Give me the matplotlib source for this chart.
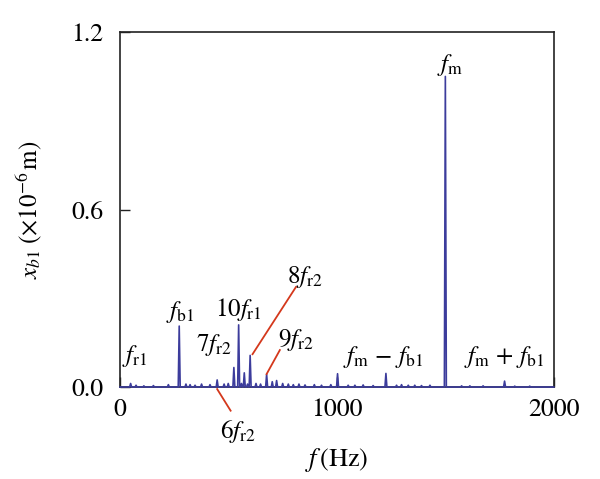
import numpy as np
import matplotlib
matplotlib.use("Agg")
import matplotlib.pyplot as plt

plt.rcParams['font.family'] = ['STIXGeneral', 'DejaVu Serif']
plt.rcParams['mathtext.fontset'] = 'stix'

# Spectrum peaks (Hz, amplitude x1e-6 m)
peak_freqs = [49, 74, 110, 154, 223, 273, 304, 323, 346, 376, 415, 448, 480, 499,
              525, 547, 560, 573, 588, 600, 627, 648, 676, 702, 722, 750, 776, 799,
              825, 853, 896, 929, 972, 1003, 1052, 1083, 1121, 1167, 1226, 1275,
              1298, 1329, 1359, 1390, 1429, 1500, 1575, 1613, 1674, 1773, 1820, 1889]
peak_amps = [0.012, 0.006, 0.004, 0.005, 0.008, 0.206, 0.01, 0.008, 0.006, 0.01,
             0.008, 0.024, 0.01, 0.012, 0.066, 0.21, 0.012, 0.048, 0.01, 0.107,
             0.012, 0.01, 0.043, 0.018, 0.022, 0.012, 0.01, 0.008, 0.01, 0.007,
             0.008, 0.006, 0.008, 0.045, 0.006, 0.006, 0.007, 0.005, 0.046, 0.006,
             0.008, 0.006, 0.006, 0.005, 0.006, 1.05, 0.004, 0.004, 0.004, 0.02,
             0.003, 0.003]

x_ticks = [0, 1000, 2000]
y_ticks = [0.0, 0.6, 1.2]
y_tick_labels = ['0.0', '0.6', '1.2']

# build polyline
half_w = 4.5
xs = [0.0]
ys = [0.0]
for f, a in sorted(zip(peak_freqs, peak_amps)):
    xs += [f - half_w, f, f + half_w]
    ys += [0.0, a, 0.0]
xs.append(2000.0)
ys.append(0.0)

fig = plt.figure(figsize=(6.0, 4.79), dpi=100)
ax = fig.add_axes([0.2, 0.192, 0.723, 0.741])
ax.plot(xs, ys, color='#3c3c9c', lw=1.2, clip_on=False, zorder=3)
ax.set_xlim(0, 2000)
ax.set_ylim(0, 1.2)
ax.set_xticks(x_ticks)
ax.set_xticklabels([str(t) for t in x_ticks])
ax.set_yticks(y_ticks)
ax.set_yticklabels(y_tick_labels)
ax.tick_params(direction='in', length=7, width=1, labelsize=18.5, color='#222222')
ax.tick_params(axis='y', pad=12)
ax.tick_params(axis='x', pad=8)
for s in ax.spines.values():
    s.set_linewidth(1.2)
    s.set_color('#222222')

ax.set_xlabel(r'$f\,$(Hz)', fontsize=19)
ax.xaxis.set_label_coords(0.5, -0.165)
ax.set_ylabel(r'$x_{b1}\;(\times 10^{-6}\,$m$)$', fontsize=18)
ax.yaxis.set_label_coords(-0.175, 0.5)

fs = 18
red = '#d4381c'
def lab(x, y, s, **kw):
    ax.text(x, y, s, fontsize=fs, ha='center', va='center', **kw)

lab(69, 0.105, r'$f_{\mathrm{r1}}$')
lab(276, 0.255, r'$f_{\mathrm{b1}}$')
lab(544, 0.262, r'$10f_{\mathrm{r1}}$')
lab(433, 0.142, r'$7f_{\mathrm{r2}}$')
lab(853, 0.372, r'$8f_{\mathrm{r2}}$')
lab(811, 0.158, r'$9f_{\mathrm{r2}}$')
lab(1212, 0.10, r'$f_{\mathrm{m}}\,-\,f_{\mathrm{b1}}$')
lab(1770, 0.10, r'$f_{\mathrm{m}}\,+\,f_{\mathrm{b1}}$')
lab(1521, 1.088, r'$f_{\mathrm{m}}$')
ax.text(544, -0.149, r'$6f_{\mathrm{r2}}$', fontsize=fs, ha='center', va='center', clip_on=False)

ax.plot([811, 611], [0.338, 0.111], color=red, lw=1.3, zorder=4)
ax.plot([737, 676], [0.125, 0.044], color=red, lw=1.3, zorder=4)
ax.plot([448, 510], [-0.007, -0.08], color=red, lw=1.3, clip_on=False, zorder=4)

fig.savefig('out.png', dpi=100)
